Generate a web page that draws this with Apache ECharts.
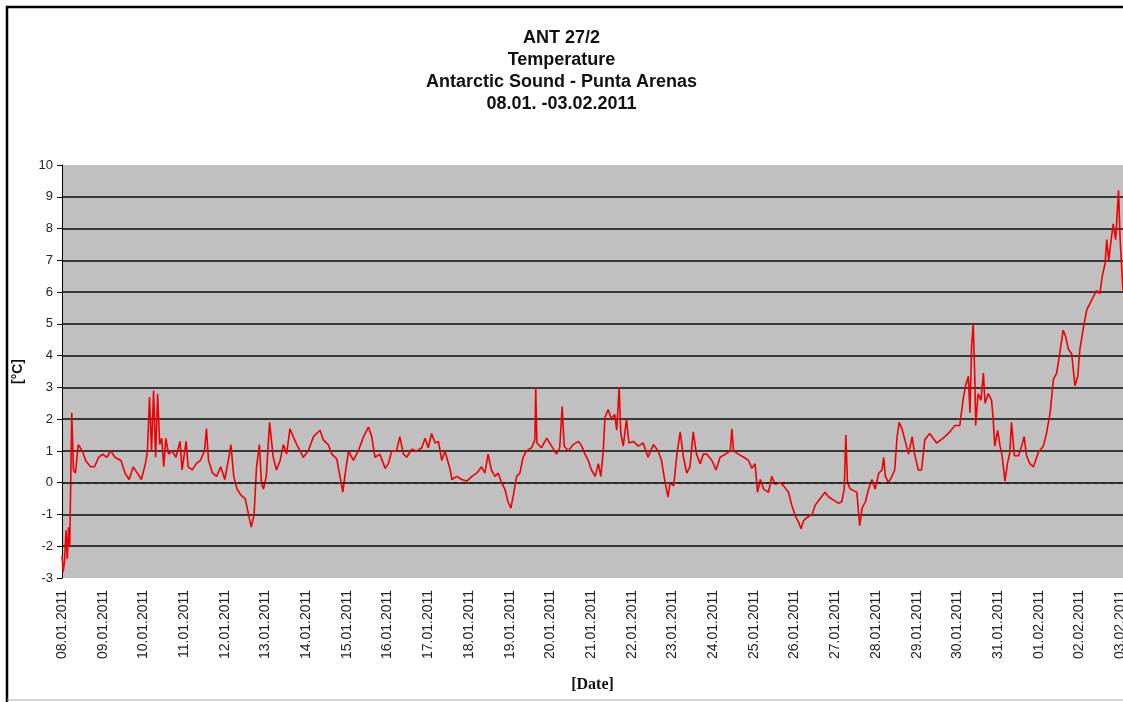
<!DOCTYPE html>
<html>
<head>
<meta charset="utf-8">
<script src="https://cdn.jsdelivr.net/npm/echarts@6/dist/echarts.min.js"></script>
<style>
html,body{margin:0;padding:0;background:#fff;}
#chart{width:1123px;height:702px;}
</style>
</head>
<body>
<div id="chart"></div>
<script>
const dateLabels = ['08.01.2011','09.01.2011','10.01.2011','11.01.2011','12.01.2011','13.01.2011','14.01.2011',
  '15.01.2011','16.01.2011','17.01.2011','18.01.2011','19.01.2011','20.01.2011','21.01.2011','22.01.2011',
  '23.01.2011','24.01.2011','25.01.2011','26.01.2011','27.01.2011','28.01.2011','29.01.2011','30.01.2011',
  '31.01.2011','01.02.2011','02.02.2011','03.02.2011']

// days since 08.01.2011 00:00
const days = [0.00,0.03,0.06,0.10,0.13,0.16,0.19,0.22,0.24,0.28,0.33,0.40,0.50,0.58,0.70,0.80,0.90,1.00,1.10,1.20,
  1.30,1.45,1.55,1.65,1.75,1.85,1.95,2.05,2.10,2.15,2.20,2.25,2.30,2.35,2.40,2.45,2.50,2.55,2.62,2.70,
  2.80,2.90,2.95,3.05,3.10,3.20,3.30,3.40,3.50,3.55,3.60,3.70,3.80,3.90,4.00,4.10,4.15,4.22,4.30,4.40,
  4.50,4.60,4.65,4.72,4.78,4.85,4.90,4.95,5.02,5.10,5.19,5.27,5.36,5.44,5.52,5.60,5.68,5.77,5.93,6.05,
  6.18,6.34,6.42,6.54,6.63,6.75,6.83,6.90,6.95,7.04,7.16,7.28,7.41,7.53,7.61,7.69,7.81,7.94,8.02,8.10,
  8.22,8.30,8.39,8.47,8.59,8.72,8.84,8.92,9.00,9.08,9.17,9.25,9.33,9.41,9.54,9.58,9.70,9.82,9.95,10.07,
  10.19,10.31,10.39,10.47,10.55,10.64,10.72,10.80,10.88,10.96,11.03,11.09,11.17,11.25,11.33,11.41,11.54,11.62,11.64,11.67,
  11.78,11.91,12.03,12.15,12.23,12.29,12.34,12.44,12.56,12.69,12.77,12.85,12.93,13.01,13.10,13.18,13.24,13.30,13.34,13.42,
  13.50,13.58,13.63,13.69,13.73,13.79,13.87,13.93,14.04,14.16,14.28,14.40,14.53,14.65,14.73,14.82,14.89,14.94,15.03,15.11,
  15.19,15.27,15.35,15.43,15.51,15.59,15.68,15.76,15.84,15.97,16.07,16.17,16.30,16.42,16.46,16.50,16.62,16.75,16.87,16.95,
  17.03,17.09,17.16,17.24,17.36,17.44,17.52,17.65,17.73,17.85,17.93,18.02,18.10,18.16,18.22,18.30,18.43,18.51,18.63,18.75,
  18.84,18.96,19.08,19.16,19.22,19.26,19.30,19.37,19.45,19.53,19.60,19.66,19.74,19.82,19.90,19.98,20.07,20.15,20.19,20.23,
  20.31,20.39,20.46,20.52,20.57,20.64,20.72,20.80,20.89,20.95,21.04,21.12,21.20,21.32,21.49,21.65,21.78,21.94,22.06,22.14,
  22.20,22.27,22.31,22.35,22.39,22.43,22.45,22.51,22.58,22.64,22.68,22.76,22.84,22.88,22.92,22.99,23.05,23.10,23.17,23.23,
  23.29,23.33,23.40,23.50,23.58,23.64,23.70,23.78,23.87,23.99,24.11,24.19,24.28,24.36,24.44,24.52,24.60,24.66,24.73,24.81,
  24.89,24.96,25.01,25.10,25.18,25.30,25.42,25.50,25.56,25.63,25.67,25.72,25.77,25.83,25.89,25.96,26.00,26.04,26.07]

const temps = [-2.3,-2.8,-2.5,-1.5,-2.4,-1.4,-2.0,0.5,2.2,0.4,0.3,1.2,1.0,0.7,0.5,0.5,0.8,0.9,0.8,1.0,
  0.8,0.7,0.3,0.1,0.5,0.3,0.1,0.6,1.0,2.7,1.0,2.9,0.8,2.8,1.2,1.4,0.5,1.4,0.9,1.0,
  0.8,1.3,0.4,1.3,0.5,0.4,0.6,0.7,1.0,1.7,0.7,0.3,0.2,0.5,0.1,0.8,1.2,0.2,-0.2,-0.4,
  -0.5,-1.1,-1.4,-1.0,0.5,1.2,0.0,-0.2,0.2,1.9,0.8,0.4,0.7,1.2,0.9,1.7,1.45,1.2,0.8,1.0,
  1.45,1.65,1.35,1.2,0.9,0.75,0.2,-0.3,0.2,1.0,0.7,1.0,1.45,1.75,1.45,0.8,0.9,0.45,0.6,1.0,
  1.0,1.45,0.9,0.8,1.05,1.0,1.1,1.4,1.1,1.55,1.25,1.3,0.7,1.0,0.4,0.1,0.2,0.1,0.05,0.2,
  0.3,0.5,0.3,0.9,0.4,0.2,0.3,0.0,-0.2,-0.6,-0.8,-0.4,0.2,0.3,0.8,1.0,1.1,1.35,3.0,1.25,
  1.1,1.4,1.15,0.9,1.1,2.4,1.15,1.0,1.2,1.3,1.15,0.9,0.7,0.4,0.2,0.6,0.2,1.0,2.05,2.3,
  2.0,2.15,1.65,3.0,1.55,1.15,2.0,1.25,1.3,1.15,1.25,0.8,1.2,1.0,0.7,0.0,-0.45,0.0,-0.1,0.9,
  1.6,0.8,0.3,0.5,1.6,0.9,0.6,0.9,0.9,0.7,0.4,0.8,0.9,1.0,1.7,1.0,0.9,0.8,0.7,0.45,
  0.6,-0.3,0.1,-0.2,-0.3,0.2,-0.05,0.0,-0.1,-0.3,-0.7,-1.05,-1.25,-1.45,-1.2,-1.1,-1.0,-0.7,-0.5,-0.3,
  -0.45,-0.55,-0.65,-0.6,-0.2,1.5,0.0,-0.2,-0.25,-0.3,-1.35,-0.8,-0.6,-0.2,0.1,-0.2,0.3,0.4,0.8,0.2,
  0.0,0.2,0.4,1.45,1.9,1.7,1.3,0.9,1.45,0.9,0.4,0.4,1.35,1.55,1.25,1.4,1.55,1.8,1.8,2.6,
  3.05,3.35,2.2,4.3,5.0,3.25,1.8,2.8,2.6,3.45,2.5,2.8,2.6,2.0,1.15,1.65,1.15,0.85,0.05,0.6,
  0.95,1.9,0.85,0.85,1.15,1.45,0.85,0.6,0.5,0.95,1.15,1.55,2.2,3.25,3.45,4.1,4.8,4.6,4.2,4.05,
  3.05,3.35,4.2,4.9,5.45,5.75,6.05,5.95,6.5,6.9,7.65,7.0,7.55,8.15,7.65,9.2,7.65,6.7,6.05]

const titleLines = ['ANT 27/2','Temperature','Antarctic Sound - Punta Arenas','08.01. -03.02.2011']

const seriesData = days.map((d, i) => [d, temps[i]])

const chart = echarts.init(document.getElementById('chart'))

chart.setOption({
  animation: false,
  backgroundColor: '#fff',
  textStyle: { fontFamily: 'Liberation Sans, Arial, sans-serif' },
  title: {
    text: titleLines.join('\n'),
    left: 'center',
    top: 22,
    textStyle: { fontSize: 18, fontWeight: 'bold', color: '#111', lineHeight: 22 }
  },
  graphic: [
    { type: 'polyline', shape: { points: [[7, 702], [7, 7], [1123, 7]] }, style: { stroke: '#000', lineWidth: 2.5, fill: null } },
    { type: 'line', shape: { x1: 7, y1: 700, x2: 1123, y2: 700 }, style: { stroke: '#aaa', lineWidth: 1 } }
  ],
  grid: {
    left: 62, right: 0, top: 165, bottom: 124,
    outerBoundsMode: 'none',
    show: true, backgroundColor: '#c0c0c0', borderWidth: 0
  },
  xAxis: {
    type: 'value',
    min: 0, max: 26.07, interval: 1,
    name: '[Date]',
    nameLocation: 'middle',
    nameGap: 99,
    nameTextStyle: { fontWeight: 'bold', fontSize: 16, color: '#111', fontFamily: 'Liberation Serif, serif' },
    axisLine: { show: false },
    axisTick: { show: false },
    splitLine: { show: false },
    axisLabel: {
      rotate: 90, margin: 12, fontSize: 14, color: '#222',
      showMaxLabel: false,
      formatter: v => Number.isInteger(v) ? dateLabels[v] : ''
    }
  },
  yAxis: {
    type: 'value',
    min: -3, max: 10, interval: 1,
    name: '[°C]',
    nameLocation: 'middle',
    nameRotate: 90,
    nameGap: 37,
    nameTextStyle: { fontWeight: 'bold', fontSize: 14, color: '#111' },
    axisLine: { show: true, lineStyle: { color: '#000', width: 1 } },
    axisTick: { show: true, inside: false, length: 5, lineStyle: { color: '#000' } },
    axisLabel: { fontSize: 13, color: '#222', margin: 9 },
    splitLine: {
      show: true, showMinLine: false, showMaxLine: false,
      lineStyle: { color: '#383838', width: 2 }
    }
  },
  series: [{
    type: 'line',
    data: seriesData,
    showSymbol: false,
    lineStyle: { color: '#f00000', width: 1.6 },
    itemStyle: { color: '#f00000' },
    markLine: {
      silent: true,
      symbol: 'none',
      label: { show: false },
      lineStyle: { color: '#222', type: [3, 5], width: 2 },
      data: [{ yAxis: 0 }]
    }
  }]
})
</script>
</body>
</html>
